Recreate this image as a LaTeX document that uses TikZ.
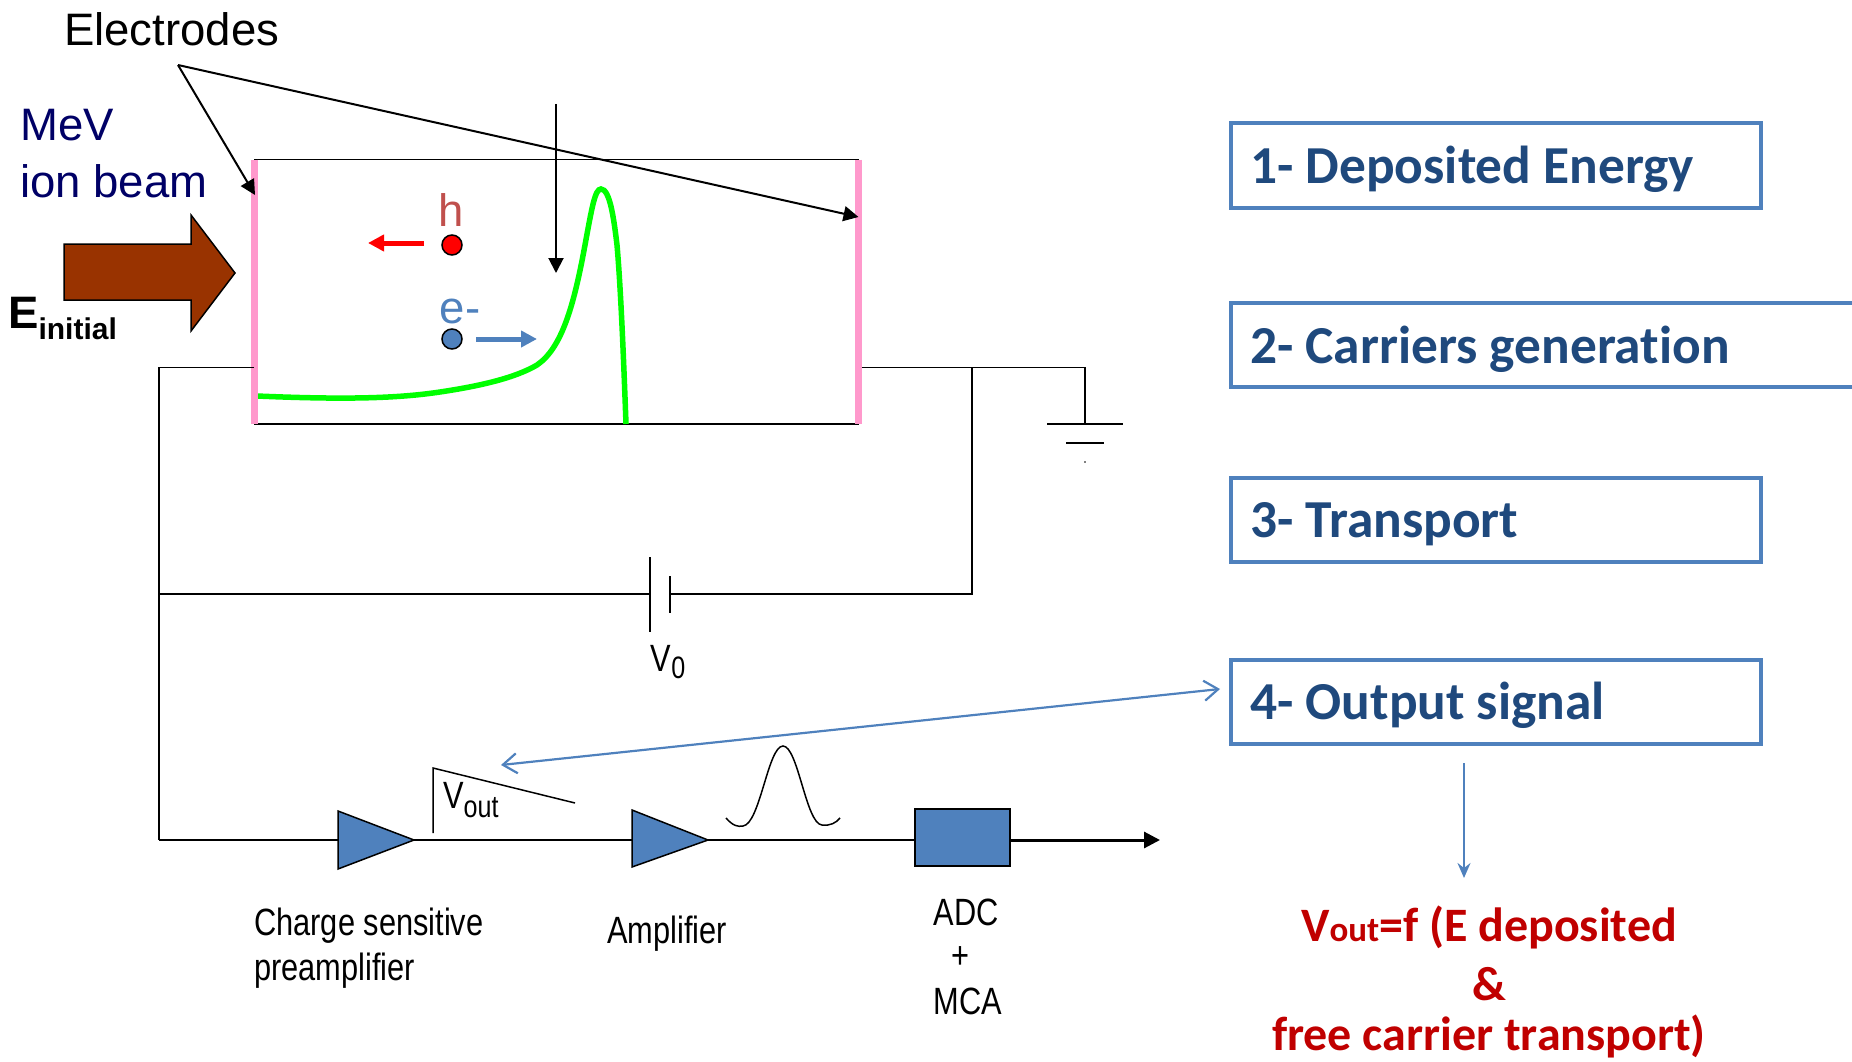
\documentclass[tikz,border=0pt]{standalone}
\usepackage{fontspec}
\setmainfont{Liberation Sans}
\newfontfamily\narrowfont[FakeStretch=0.81]{Liberation Sans}
\newfontfamily\stepfont[Ligatures=NoCommon]{Carlito}
\usepackage{xcolor}
\usetikzlibrary{arrows.meta, positioning, calc}
\definecolor{PanelBlue}{HTML}{4F81BD}
\definecolor{StepText}{HTML}{1F497D}
\definecolor{BeamBrown}{HTML}{993300}
\definecolor{BeamNavy}{HTML}{000066}
\definecolor{HoleRed}{HTML}{C0504D}
\definecolor{ElectrodePink}{HTML}{FF99CC}
\definecolor{ResultRed}{HTML}{C00000}

\begin{document}
\begin{tikzpicture}[
			x=1pt, y=-1pt,
			wire/.style={draw, line width=1.9pt},
			lead/.style={->, >={Triangle[length=15pt, width=15pt]}, line width=2pt},
			electrode/.style={draw=ElectrodePink, line width=7pt},
			amp/.style={draw, fill=PanelBlue, line width=1.5pt},
			stepbox/.style={rectangle, draw=PanelBlue, line width=4pt, anchor=north west, inner sep=0pt},
			steplabel/.style={anchor=west, inner sep=0pt, text=StepText, font=\stepfont\fontsize{53.4}{55}\selectfont\bfseries},
			bigtext/.style={anchor=west, inner sep=0pt, font=\fontsize{45.5}{50}\selectfont},
			smalltext/.style={inner sep=0pt, font=\narrowfont\fontsize{38}{40}\selectfont},
			result/.style={inner sep=0pt, text=ResultRed, font=\stepfont\fontsize{48}{50}\selectfont\bfseries},
			carrier/.style={circle, draw, line width=1.5pt, minimum size=20pt, inner sep=0pt},
			carrierarrow/.style={-{Triangle[length=16pt, width=16pt]}, line width=5pt},
			signal/.style={->, >={Straight Barb[length=14pt, width=20pt]}, draw=PanelBlue, line width=2.2pt}
			]
			\useasboundingbox (0,0) rectangle (1852,1062);
			
			% detector
			\coordinate (detTL) at (254,159.5);
			\coordinate (detTR) at (858.5,159.5);
			\coordinate (detBL) at (254,424);
			\coordinate (detBR) at (858.5,424);
			\draw[wire] (detTL) -- (detTR);
			\draw[wire] (detBL) -- (detBR);
			\draw[draw=green, line width=5.5pt] (257,396) .. controls (350,400) and (400,398) .. (440,392)
				.. controls (480,386) and (515,378) .. (537,365)
				.. controls (562,348) and (574,305) .. (585,245)
				.. controls (592,207) and (595,189) .. (601,189)
				.. controls (610,189) and (614,220) .. (617,245)
				.. controls (621,290) and (624,370) .. (626,424);
			\draw[electrode] (detTL) -- (detBL);
			\draw[electrode] (detTR) -- (detBR);
			
			% labels at the top
			\node[bigtext] (electrodes) at (64,29) {Electrodes};
			\node[bigtext, text=BeamNavy] (mev) at (20,125) {MeV};
			\node[bigtext, text=BeamNavy] (ion) at (20,181) {ion beam};
			\coordinate (apex) at (178,65);
			\coordinate (leftpad) at (255,195);
			\coordinate (rightpad) at (858.5,217);
			\draw[lead] (apex) -- (leftpad);
			\draw[lead] (apex) -- (rightpad);
			\coordinate (topdrop) at (556,104);
			\coordinate (middrop) at (556,273);
			\draw[lead] (topdrop) -- (middrop);
			
			% beam
			\node[bigtext, font=\fontsize{45.5}{50}\selectfont\bfseries] (einit) at (8,318) {E\raisebox{-11pt}{\fontsize{30}{32}\selectfont initial}};
			\draw[draw=black, fill=BeamBrown, line width=1.5pt] (64,244) -- (191,244) -- (191,215) -- (235,273) -- (191,331) -- (191,300) -- (64,300) -- cycle;
			
			% carriers
			\node[bigtext, anchor=center, text=HoleRed] (hole) at (451,210) {h};
			\node[carrier, fill=red] (holedot) at (452,245) {};
			\coordinate (holeend) at (368,243);
			\draw[carrierarrow, draw=red, fill=red] (424,243) -- (holeend);
			\node[bigtext, anchor=center, text=PanelBlue] (elec) at (460,311) {e-};
			\node[carrier, fill=PanelBlue] (elecdot) at (452,339) {};
			\coordinate (elecend) at (537,339);
			\draw[carrierarrow, draw=PanelBlue, fill=PanelBlue] (476,339) -- (elecend);
			
			% bias and ground
			\coordinate (wireTL) at (159,367.5);
			\coordinate (wireBL) at (159,840);
			\coordinate (wireML) at (159,594);
			\coordinate (junction) at (972,367.5);
			\coordinate (groundtop) at (1085,367.5);
			\coordinate (battlong) at (650,594);
			\coordinate (battshort) at (670,594);
			\draw[wire] (254,367.5) -- (wireTL) -- (wireBL);
			\draw[wire] (862,367.5) -- (groundtop) -- (1085,424);
			\draw[wire] (1047,424) -- (1123,424);
			\draw[wire] (1066,443) -- (1104,443);
			\fill (1085,462) circle (0.8pt);
			\draw[wire] (junction) |- (battshort);
			\draw[wire] (wireML) -- (battlong);
			\draw[wire] (650,557) -- (650,632);
			\draw[wire] (670,576) -- (670,613);
			\node[smalltext] (vzero) at (668,662) {V\raisebox{-7pt}{\fontsize{31}{33}\selectfont 0}};
			
			% readout chain
			\draw[amp] (338,811) -- (414,840) -- (338,869) -- cycle;
			\draw[amp] (632,810) -- (708,840) -- (632,867) -- cycle;
			\node[draw, fill=PanelBlue, line width=1.8pt, minimum width=95pt, minimum height=57pt, inner sep=0pt] (adc) at (962.5,837.5) {};
			\coordinate (chainend) at (1160,840);
			\draw[wire] (wireBL) -- (338,840);
			\draw[wire] (414,840) -- (632,840);
			\draw[wire] (708,840) -- (adc.west |- chainend);
			\draw[->, >={Triangle[length=16pt, width=16pt]}, line width=3pt] (adc.east |- chainend) -- (chainend);
			\draw[line width=1.5pt] (433,833) -- (433,768) -- (575,803);
			\node[smalltext, anchor=west] (vout) at (443,800) {V\raisebox{-9pt}{\fontsize{31}{33}\selectfont out}};
			\draw[line width=1.5pt] (726,818) .. controls (733,826) and (738,827) .. (743,826)
				.. controls (760,824) and (768,746) .. (783,746)
				.. controls (798,746) and (806,824) .. (822,825)
				.. controls (830,826) and (836,823) .. (840,818);
			\node[smalltext, anchor=west] (preampa) at (254,926) {Charge sensitive};
			\node[smalltext, anchor=west] (preampb) at (254,971) {preamplifier};
			\node[smalltext, anchor=west] (ampl) at (607,934) {Amplifier};
			\node[smalltext] (adclabel) at (966,912) {ADC};
			\node[smalltext] (plus) at (960,958) {+};
			\node[smalltext] (mca) at (968,1001) {MCA};
			
			% steps
			\node[stepbox, minimum width=530pt, minimum height=84pt] (one) at (1229,121.5) {};
			\node[stepbox, minimum width=640pt, minimum height=84pt] (two) at (1229,301) {};
			\node[stepbox, minimum width=530pt, minimum height=84pt] (three) at (1229,476) {};
			\node[stepbox, minimum width=530pt, minimum height=84pt] (four) at (1229,657.5) {};
			\node[steplabel] (onetext) at (1250,169) {1- Deposited Energy};
			\node[steplabel] (twotext) at (1250,349) {2- Carriers generation};
			\node[steplabel] (threetext) at (1250,524) {3- Transport};
			\node[steplabel] (fourtext) at (1250,705) {4- Output signal};
			
			% result
			\coordinate (fourpoint) at (1220,689);
			\coordinate (voutpoint) at (501,765);
			\draw[signal, <->] (fourpoint) -- (voutpoint);
			\coordinate (downtop) at (1464,763);
			\coordinate (downend) at (1464,878);
			\draw[->, >={Stealth[length=15pt, width=13pt, inset=5pt]}, draw=PanelBlue, line width=2.2pt] (downtop) -- (downend);
			\node[result] (resa) at (1489,927) {V{\fontsize{35}{37}\selectfont out}=f (E deposited};
			\node[result] (resb) at (1489,984) {\&};
			\node[result] (resc) at (1489,1036) {free carrier transport)};
		\end{tikzpicture}
\end{document}
